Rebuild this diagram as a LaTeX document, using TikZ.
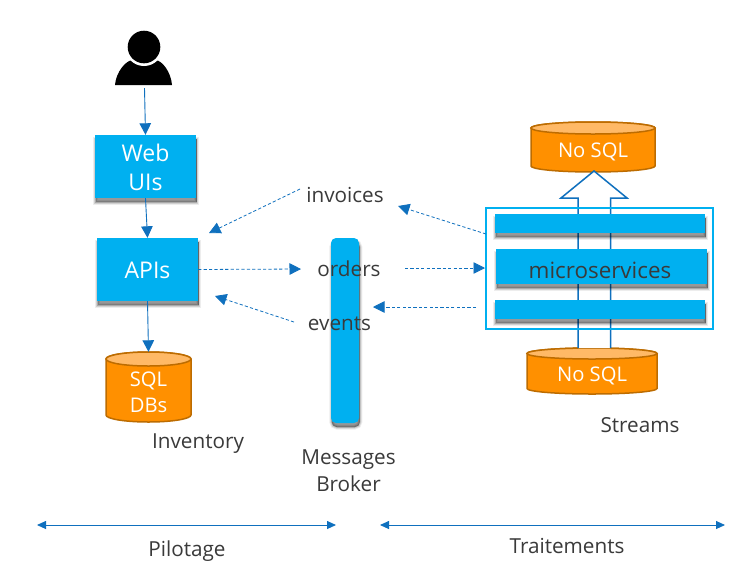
\documentclass[tikz,border=0pt]{standalone}
\usepackage{fontspec}
\setmainfont{Open Sans}
\usetikzlibrary{arrows.meta}
\definecolor{cy}{HTML}{00B0F0}
\definecolor{ar}{HTML}{0F70BE}
\definecolor{ora}{HTML}{FF9000}
\definecolor{orb}{HTML}{BD6C00}
\definecolor{ort}{HTML}{FFB966}
\definecolor{txt}{HTML}{3A3A3A}
\tikzset{
  x=1pt,y=-1pt,
  softshadow/.style={
    preaction={fill=black,draw=black,fill opacity=.10,draw opacity=.07,line width=5pt,transform canvas={shift={(.8pt,-4pt)}}},
    preaction={fill=black,draw=black,fill opacity=.14,draw opacity=.12,line width=3pt,transform canvas={shift={(.8pt,-4pt)}}},
    preaction={fill=black,draw=black,fill opacity=.22,draw opacity=.18,line width=1pt,transform canvas={shift={(.8pt,-4pt)}}}},
  bluebox/.style={fill=cy,inner sep=0pt,softshadow},
  wlabel/.style={text=white,font=\fontsize{23}{29}\selectfont,align=center,inner sep=0pt},
  dblabel/.style={text=white,font=\fontsize{20.2}{26}\selectfont,align=center,inner sep=0pt},
  dlabel/.style={text=txt,font=\fontsize{20.7}{27}\selectfont,align=center,inner sep=0pt},
  solidarrow/.style={draw=ar,line width=.9pt,-{Triangle[length=11.5pt,width=11.5pt]}},
  dasharrow/.style={draw=ar,line width=.8pt,dash pattern=on 3.2pt off 2.2pt,-{Triangle[length=11.5pt,width=11.5pt]}},
  rangearrow/.style={draw=ar,line width=.9pt,{Triangle[length=9pt,width=8pt]}-{Triangle[length=9pt,width=8pt]}},
}
% #1 name, #2 x1, #3 ytop, #4 x2, #5 ybottom, #6 ry, #7 text, #8 text y
\newcommand{\dbcyl}[8]{%
  \path[fill=ora,draw=orb,line width=1.5pt]
    (#2,#3+#6) arc[x radius={(#4-#2)/2},y radius=#6,start angle=180,end angle=360]
    -- (#4,#5-#6) arc[x radius={(#4-#2)/2},y radius=#6,start angle=0,end angle=180,delta angle=-180] -- cycle;
  \path[fill=ort,draw=orb,line width=1.5pt] ({(#2+#4)/2},#3+#6) ellipse[x radius={(#4-#2)/2},y radius=#6];
  \node[minimum width={(#4-#2)*1pt},minimum height={(#5-#3)*1pt},inner sep=0pt] (#1) at ({(#2+#4)/2},{(#3+#5)/2}) {};
  \node[dblabel] (#1text) at ({(#2+#4)/2},#8) {#7};
}
\begin{document}
\begin{tikzpicture}
\useasboundingbox (0,0) rectangle (754,587);
\fill[white] (0,0) rectangle (754,587);

% person
\fill[black] (115,85) .. controls (116,72) and (126,60) .. (133,60) -- (155,60) .. controls (162,60) and (171,72) .. (172,85) -- cycle;
\fill[white] (144,47) circle[radius=19];
\fill[black] (144,47) circle[radius=16.3];
\node[minimum width=58pt,minimum height=58pt,inner sep=0pt] (person) at (144.5,59) {};

% left column
\node[bluebox,minimum width=101pt,minimum height=63pt] (web) at (145.5,166.5) {};
\node[wlabel] (webtext) at (145.5,167.5) {Web\\UIs};
\node[bluebox,minimum width=101pt,minimum height=63pt] (api) at (147.5,269.5) {};
\node[wlabel] (apitext) at (147.5,270) {APIs};
\dbcyl{sql}{106}{352}{191}{422}{7}{SQL\\DBs}{392}
\draw[solidarrow] (person.south) -- (web.north);
\draw[solidarrow] (web.south) -- (api.north);
\draw[solidarrow] (api.south) -- (sql.north);

% broker
\node[fill=cy,rounded corners=5pt,minimum width=28pt,minimum height=185pt,inner sep=0pt,softshadow] (broker) at (345,330.5) {};

% right column
\dbcyl{nosqltop}{531}{122}{655}{172}{6}{No SQL}{151.5}
\dbcyl{nosqlbot}{527}{348}{657}{394}{5.5}{No SQL}{375.5}
\path[draw=ar,line width=1.5pt,fill=white,line join=miter]
  (578,348) -- (578,198) -- (561,198) -- (594,171) -- (627,198) -- (610.5,198) -- (610.5,348);
\coordinate (blocktip) at (594,171);
\node[draw=cy,line width=1.6pt,minimum width=227pt,minimum height=121pt,inner sep=0pt] (frame) at (599.5,268.5) {};
\node[bluebox,minimum width=210pt,minimum height=19pt] (bara) at (600,223.5) {};
\node[bluebox,minimum width=211pt,minimum height=35pt] (barb) at (601.5,266.5) {};
\node[bluebox,minimum width=210pt,minimum height=19pt] (barc) at (600,309.5) {};
\node[dlabel,font=\fontsize{22.4}{29}\selectfont] (micro) at (600,270) {microservices};

% labels
\node[dlabel] (invoices) at (345,195) {invoices};
\node[dlabel] (orders) at (349,269) {orders};
\node[dlabel] (events) at (339.5,323.5) {events};
\node[dlabel] (inventory) at (198,444) {Inventory};
\node[dlabel] (streams) at (640,425) {Streams};
\node[dlabel] (msg) at (348.5,471) {Messages\\Broker};
\node[dlabel] (pilotage) at (187,551) {Pilotage};
\node[dlabel] (trait) at (567,546) {Traitements};

% dashed flows
\coordinate (a1) at (300,189);  \coordinate (a2) at (209,233);
\coordinate (b1) at (486,234);  \coordinate (b2) at (398,206);
\coordinate (c2) at (301,269);
\coordinate (d1) at (405,268);  \coordinate (d2) at (485,268);
\coordinate (e1) at (476,307);  \coordinate (e2) at (373,307);
\coordinate (f1) at (294,322);  \coordinate (f2) at (215,296);
\draw[dasharrow] (a1) -- (a2);
\draw[dasharrow] (b1) -- (b2);
\draw[dasharrow] (api.east) -- (c2);
\draw[dasharrow] (d1) -- (d2);
\draw[dasharrow] (e1) -- (e2);
\draw[dasharrow] (f1) -- (f2);

% ranges
\coordinate (r1) at (37,525); \coordinate (r2) at (336,525);
\coordinate (s1) at (380,525); \coordinate (s2) at (725,525);
\draw[rangearrow] (r1) -- (r2);
\draw[rangearrow] (s1) -- (s2);
\end{tikzpicture}
\end{document}
